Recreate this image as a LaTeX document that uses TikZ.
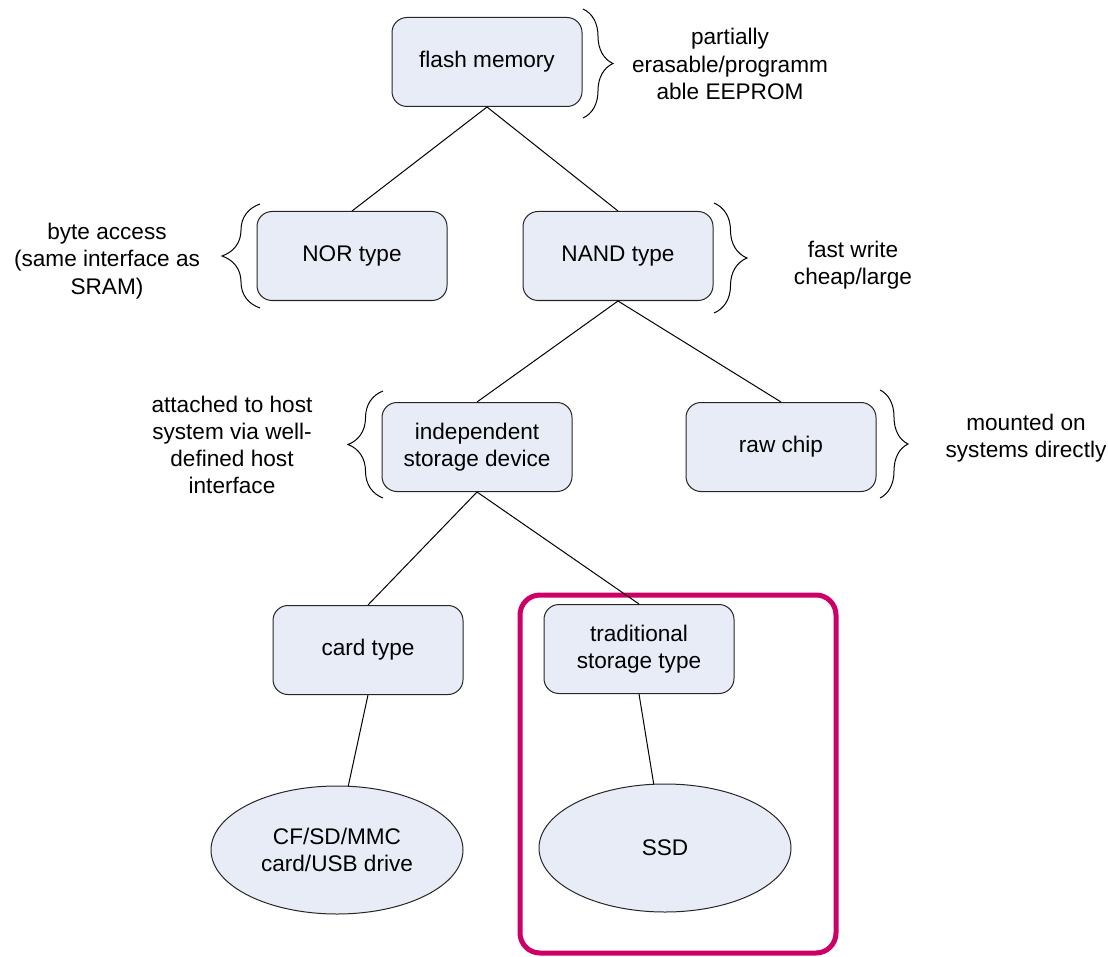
\documentclass[tikz,border=0pt]{standalone}
\usepackage{fontspec}
\setmainfont{Liberation Sans}
\usetikzlibrary{shapes.geometric, decorations.pathreplacing}

\definecolor{boxfill}{RGB}{231,236,247}
\definecolor{framecol}{RGB}{204,0,102}

\tikzstyle{box}=[%
	draw = black!85,
	fill = boxfill,
	rounded corners = 7.5pt,
	minimum width = 95pt,
	minimum height = 44.5pt,
	align = center
]
\tikzstyle{oval}=[%
	draw = black!85,
	fill = boxfill,
	ellipse,
	minimum width = 126pt,
	minimum height = 64pt,
	inner sep = 0pt,
	align = center
]
\tikzstyle{note}=[align = center, inner sep = 0pt]
\tikzset{notebrace/.style = {decorate, decoration = {brace, amplitude = #1}}}

\begin{document}
\begin{tikzpicture}[x=0.5pt, y=-0.5pt, line width=0.5pt,
	every node/.style = {font = \fontsize{11.3}{13.6}\selectfont}]

	% Background, frame
	\draw[draw=none, fill=white] (0,0) rectangle (1108,957);
	\draw[framecol, line width=2.5pt, rounded corners=10pt] (520,595) rectangle (836,953);

	% Boxes
	\node[box] (flash) at (487,62) {flash memory};
	\node[box] (nor) at (352,256) {NOR type};
	\node[box] (nand) at (618,256) {NAND type};
	\node[box] (indep) at (477,447) {independent\\storage device};
	\node[box] (rawchip) at (781,447) {raw chip};
	\node[box] (card) at (368,650) {card type};
	\node[box] (trad) at (639,649) {traditional\\storage type};
	\node[oval] (cfsd) at (337,850) {CF/SD/MMC\\card/USB drive};
	\node[oval] (ssd) at (665,848) {SSD};

	% Connectors
	\foreach \a/\b in {flash.south/nor.north, flash.south/nand.north,
		nand.south/indep.north, nand.south/rawchip.north,
		indep.south/card.north, indep.south/trad.north,
		card.south/cfsd.80, trad.south/ssd.100} {
		\draw (\a) -- (\b);
	}

	% Braces
	\foreach \x/\ya/\yb/\amp in {583/9/118/15pt, 260/308/204/19pt, 714/203/313/16.5pt,
		383/498/391/17.5pt, 880/390/498/14pt} {
		\draw[notebrace=\amp] (\x,\ya) -- (\x,\yb);
	}

	% Notes
	\node[note] (flashnote) at (730,64) {partially\\erasable/programm\\able EEPROM};
	\node[note] (nornote) at (107,261) {byte access\\(same interface as\\SRAM)};
	\node[note] (nandnote) at (853,265) {fast write\\cheap/large};
	\node[note] (indepnote) at (232,445) {attached to host\\system via well-\\defined host\\interface};
	\node[note] (rawnote) at (1026,438) {mounted on\\systems directly};

\end{tikzpicture}
\end{document}
